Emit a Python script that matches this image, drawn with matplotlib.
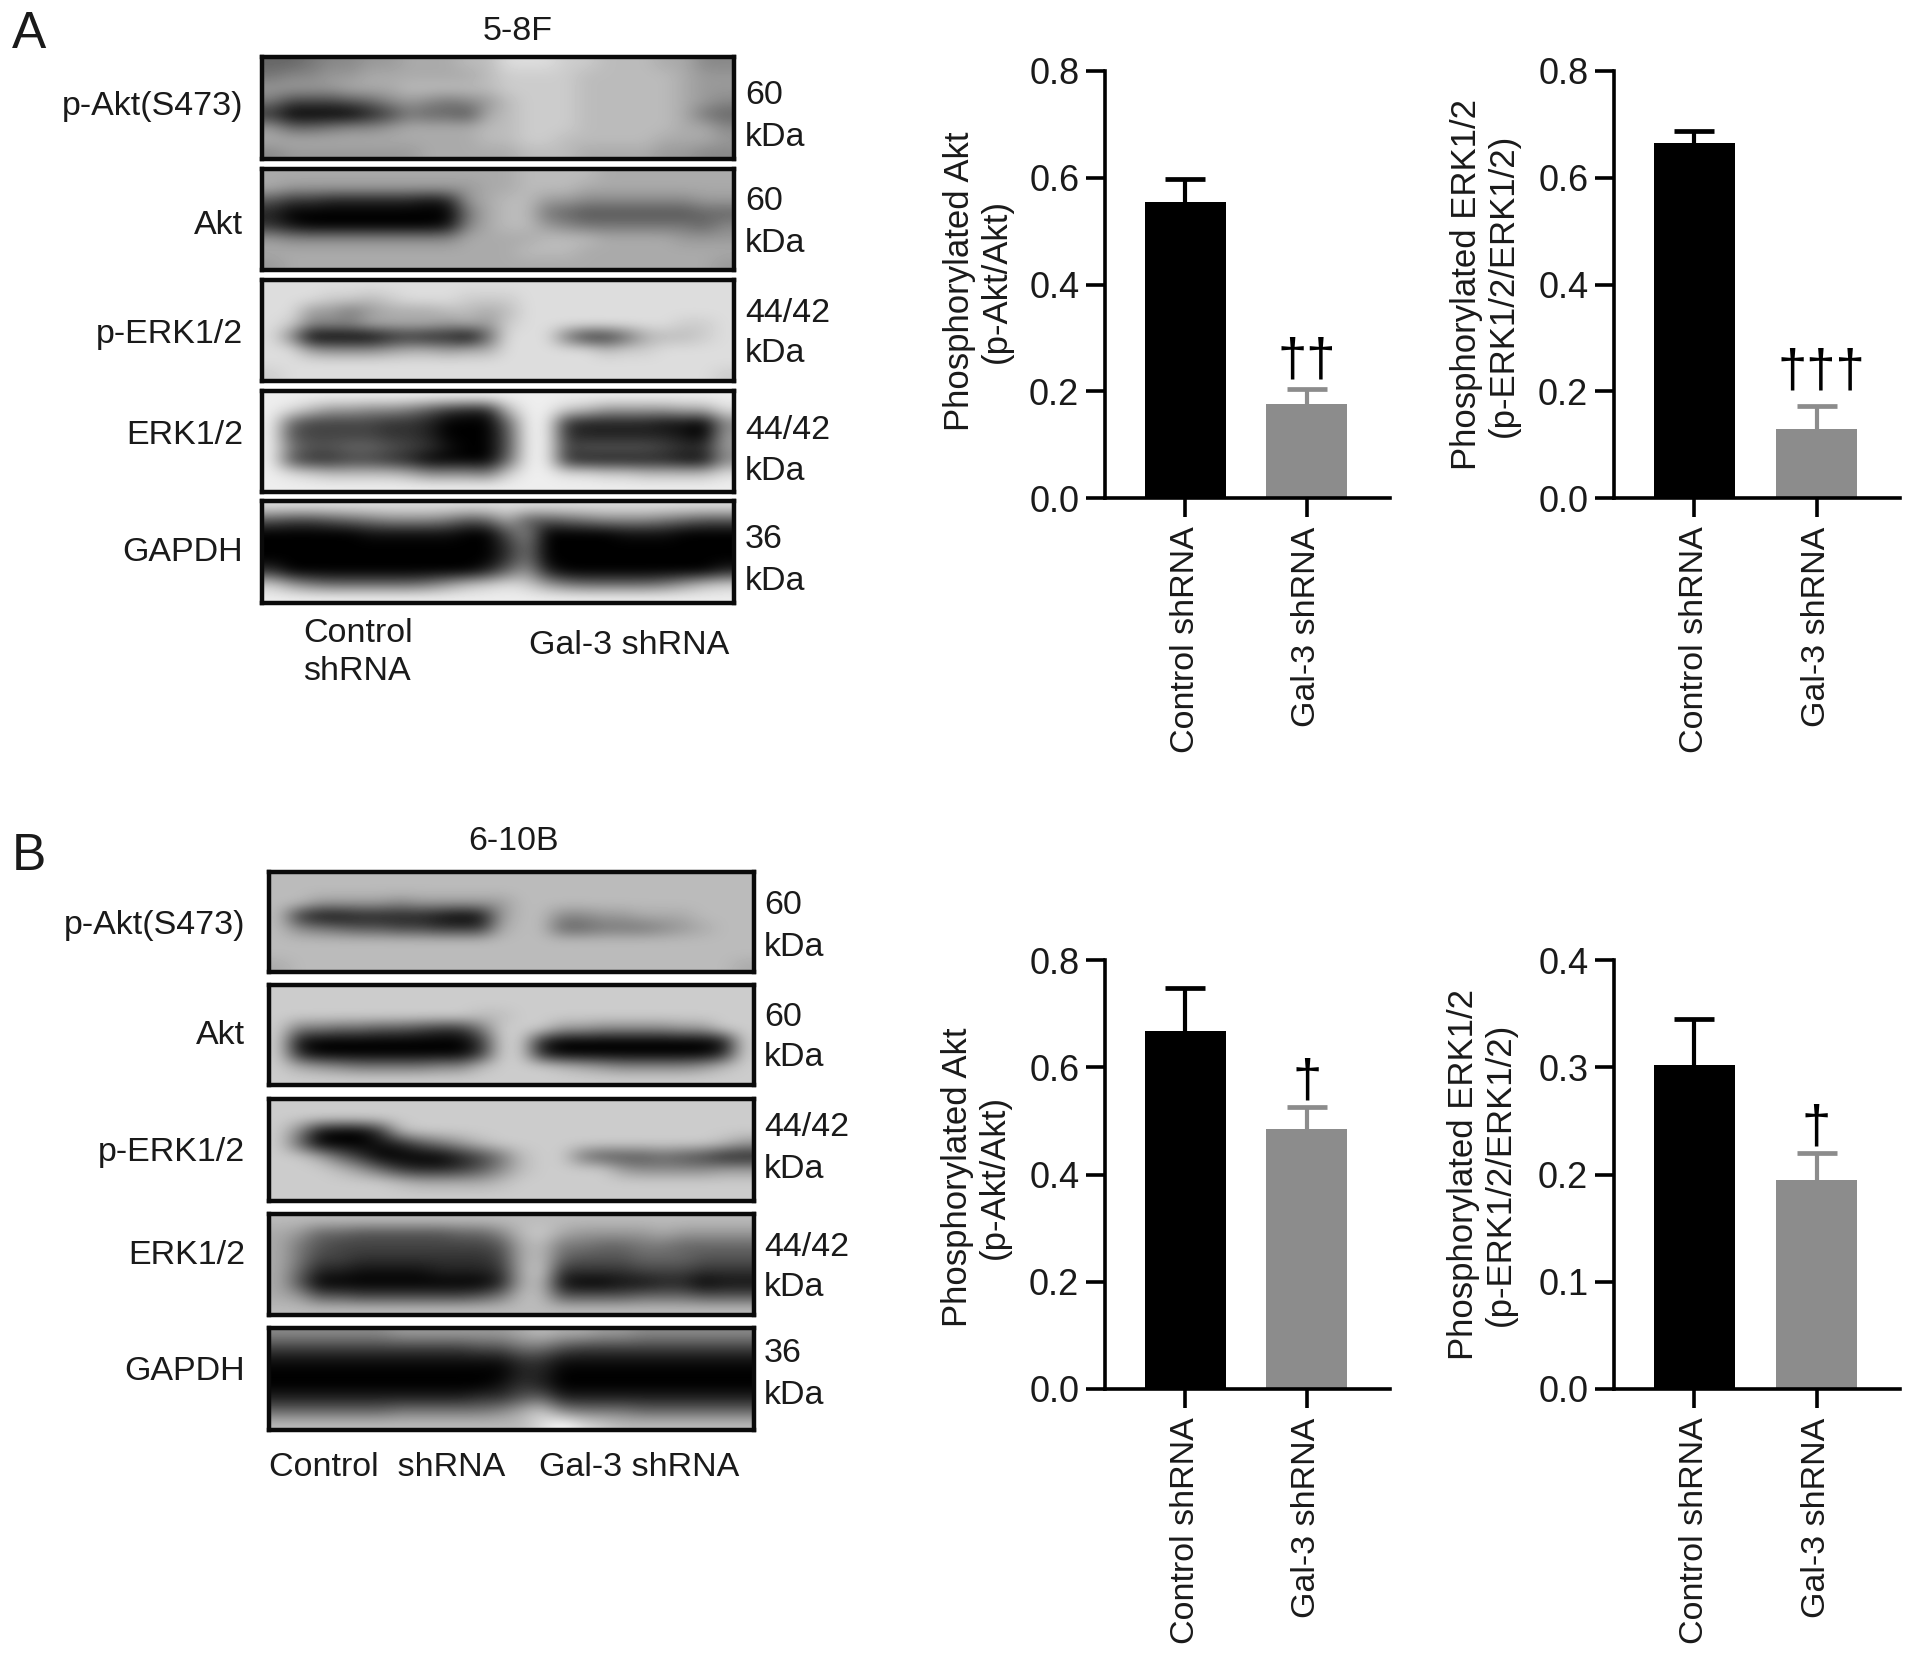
import numpy as np
import matplotlib
matplotlib.use('Agg')
import matplotlib.pyplot as plt
from matplotlib.transforms import IdentityTransform

W, H = 1913, 1657
plt.rcParams['font.family'] = ['Liberation Sans', 'DejaVu Sans']

groups = ['Control shRNA', 'Gal-3 shRNA']
bar_colors = ['#000000', '#8c8c8c']

a_akt_vals = [0.555, 0.177]
a_akt_tops = [0.597, 0.205]
a_erk_vals = [0.665, 0.130]
a_erk_tops = [0.688, 0.172]
b_akt_vals = [0.667, 0.485]
b_akt_tops = [0.748, 0.525]
b_erk_vals = [0.302, 0.195]
b_erk_tops = [0.345, 0.220]

ticks_08 = [0.0, 0.2, 0.4, 0.6, 0.8]
ticks_04 = [0.0, 0.1, 0.2, 0.3, 0.4]

akt_label = 'Phosphorylated Akt\n(p-Akt/Akt)'
erk_label = 'Phosphorylated ERK1/2\n(p-ERK1/2/ERK1/2)'

# blot images as small grey tables, one hex digit per cell (0 black, f white)
blot_a1 = ['6678899aaabbdddccbbbaa88',
           '78899aaaaaabccccbbbbba99',
           '9999aaabbbbbccccbbbbba99',
           '744456898789bcccbbbbba98',
           '30000247665abcccbbbbba76',
           '9667889aaaabbcccbbbbbaa8',
           'aaaaaaaaaaabbccbbbbbaaa9',
           '89999999aaaaabbbaaaa9988']
blot_a2 = ['aaaaaaaaaaaaabbbbaaaaaaa',
           'a9999999999aabbbaaaaaaaa',
           '53322222129abb9988888899',
           '20000000007abb7655555566',
           '31000000018abb9877777768',
           '9888888888aaaabbbaaaa999',
           'aaaaaaaaaaaaabbbaaaaaaaa',
           '9aaaaaaaaaaaaaaaaaaaaaa9']
blot_a3 = ['dddddddddddddddddddddddd',
           'dddccbcdddcccddddddddddd',
           'dd9979aaabbabddddddddddd',
           'dc888aaaa9a9cddddddddccd',
           'd80000232206ddd7336abbcd',
           'dd98889aa9aadddddbccdddd',
           'dddddddddddddddddddddddd',
           'cddddddddddddddddddddddc']
blot_a4 = ['eeeeeeeeeeeeeeeeeeeeeeee',
           'edb998875322beecb9999aad',
           'e644443320006ee322221108',
           'e544443320005ee322222109',
           'e755665431005ee455554339',
           'e533443200006ee322222118',
           'edcbbbba8887ceeddccbbbbd',
           'eeeeeeeeeeeeeeeeeeeeeeee']
blot_a5 = ['dddddddddddddddddddddddd',
           '544567888756a55678887655',
           '000001111100580000111000',
           '000000000000370000000000',
           '000000000000370000000000',
           '300000000002692000000002',
           'c976666679bcdc97666679bc',
           'eeeeeeeeeeeeeeeeeeeeeeee']
blot_b1 = ['bbbbbbbbbbbbbbbbbbbbbbbb',
           'bbbbbbbbbbbbbbbbbbbbbbbb',
           'bb9999899999bbbbbbbbbbbb',
           'b31122221019bb8899aaabbb',
           'b8765544333abb6677789abb',
           'bbbbbbbbbbbbbbbbbbbbbbbb',
           'bbbbbbbbbbbbbbbbbbbbbbbb',
           'abbbbbbbbbbbbbbbbbbbbbba']
blot_b2 = ['cccccccccccccccccccccccc',
           'cccccccccccccccccccccccc',
           'ccccccccccbbcccccccccccc',
           'c7766554337ccc99888899cc',
           'c1000000003cc2000000001c',
           'c2000000003cc2000000002c',
           'ca98777788bcccba988889bc',
           'cccccccccccccccccccccccc']
blot_b3 = ['cccccccccccccccccccccccc',
           'cccccccccccccccccccccccc',
           'c81003bccccccccccccccccc',
           'c600012579bcccccccccccb9',
           'cca630000247bcc755565422',
           'cccb96322358bcccc9888899',
           'ccccccbaaaabcccccccccccc',
           'cccccccccccccccccccccccc']
blot_b4 = ['bbbbbbbbbbbbbbbbbbbbbbbb',
           'a96655555668bca9999a9999',
           'a75444444445ab7766776666',
           'a74433333334ab6555666555',
           'a62211112223ac3333444333',
           'a50000000002ab1001122011',
           'a95544444457bb5555666555',
           'bbbbbbbbbbbbbbbbbbbbbbbb']
blot_b5 = ['888888999999abaa99888888',
           '444444444455775444444444',
           '111111111111331111111111',
           '000000000000220000000000',
           '000000000001320000000000',
           '222222222233562222222222',
           '666666777778ac8777666666',
           'bbbbbbbbbbbbbdfdcbbbbbbb']

names = ['p-Akt(S473)', 'Akt', 'p-ERK1/2', 'ERK1/2', 'GAPDH']
sizes = ['60', '60', '44/42', '44/42', '36']

fig = plt.figure(figsize=(W / 100, H / 100), dpi=100, facecolor='white')
px = IdentityTransform()


def new_axes(x0, y0, x1, y1):
    return fig.add_axes([x0 / W, 1 - y1 / H, (x1 - x0) / W, (y1 - y0) / H])


def put_text(x, y, s, size=24.5, ha='left', va='center', **kw):
    fig.text(x / W, 1 - y / H, s, fontsize=size, ha=ha, va=va, color='#1a1a1a', **kw)


def draw_blot(rows, x0, y0, x1, y1):
    ax = new_axes(x0, y0, x1, y1)
    grid = np.array([[int(c, 16) for c in r] for r in rows])
    ax.imshow(grid, cmap='gray', vmin=0, vmax=15, aspect='auto', interpolation='bicubic')
    ax.set_xticks([])
    ax.set_yticks([])
    for s in ax.spines.values():
        s.set_linewidth(3.2)
        s.set_color('#0a0a0a')


def draw_bars(box, vals, tops, ticks, ylabel, label_x, label_y, mark, mark_y):
    x0, y0, x1, y1 = box
    ax = new_axes(x0, y0, x1, y1)
    ax.patch.set_alpha(0)
    for i in range(2):
        ax.bar(i, vals[i], width=0.667, color=bar_colors[i])
        # upper whisker only, no cap on the bar top
        ax.vlines(i, vals[i], tops[i], color=bar_colors[i], linewidth=3)
        ax.plot([i], [tops[i]], marker='_', markersize=29, markeredgewidth=3.4, color=bar_colors[i])
    ax.set_xlim(-0.658, 1.683)
    ax.set_ylim(0, ticks[-1])
    ax.set_yticks(ticks)
    ax.set_yticklabels(['%.1f' % t for t in ticks], fontsize=26, color='#1a1a1a')
    ax.set_xticks([0, 1])
    ax.set_xticklabels(groups, rotation=90, fontsize=24.5, color='#1a1a1a')
    ax.tick_params(axis='y', length=13.5, width=2.6, pad=5)
    ax.tick_params(axis='x', length=13.5, width=2.6, pad=7)
    ax.spines['top'].set_visible(False)
    ax.spines['right'].set_visible(False)
    ax.spines['left'].set_linewidth(2.6)
    ax.spines['bottom'].set_linewidth(2.6)
    ax.set_ylabel(ylabel, fontsize=25, color='#1a1a1a', linespacing=1.18, va='center', ha='center')
    ax.yaxis.set_label_coords(label_x, H - label_y, transform=px)
    ax.text(1.04 if len(mark) == 3 else 1, mark_y, mark, fontsize=38, ha='center', va='center', color='black')


# panel A blots
put_text(12, 35, 'A', size=37)
put_text(518, 31, '5-8F', ha='center')
a_blots = [blot_a1, blot_a2, blot_a3, blot_a4, blot_a5]
a_boxes = [(57, 159), (169, 270), (280, 381), (391, 492), (501, 603)]
a_name_y = [107, 226, 334, 436, 552]
a_top_y = [96, 202, 313, 431, 540]
a_bot_y = [137, 243, 354, 472, 581]
for i in range(5):
    draw_blot(a_blots[i], 262, a_boxes[i][0], 734, a_boxes[i][1])
    put_text(243, a_name_y[i], names[i], ha='right')
    put_text(745, a_top_y[i], sizes[i])
    put_text(745, a_bot_y[i], 'kDa')
put_text(303, 633, 'Control')
put_text(303, 672, 'shRNA')
put_text(529, 646, 'Gal-3 shRNA')

# panel B blots
put_text(12, 856, 'B', size=37)
put_text(513, 842, '6-10B', ha='center')
b_blots = [blot_b1, blot_b2, blot_b3, blot_b4, blot_b5]
b_boxes = [(872, 972), (985, 1085), (1099, 1201), (1214, 1315), (1328, 1430)]
b_name_y = [925, 1036, 1152, 1256, 1371]
b_top_y = [906, 1017, 1127, 1247, 1354]
b_bot_y = [947, 1057, 1169, 1287, 1395]
for i in range(5):
    draw_blot(b_blots[i], 269, b_boxes[i][0], 754, b_boxes[i][1])
    put_text(245, b_name_y[i], names[i], ha='right')
    put_text(764, b_top_y[i], sizes[i])
    put_text(764, b_bot_y[i], 'kDa')
put_text(269, 1467, 'Control  shRNA')
put_text(539, 1467, 'Gal-3 shRNA')

# bar panels
draw_bars((1105, 71, 1390, 498), a_akt_vals, a_akt_tops, ticks_08, akt_label, 978, 281, '††', 0.255)
draw_bars((1614, 71, 1900, 498), a_erk_vals, a_erk_tops, ticks_08, erk_label, 1485, 285, '†††', 0.235)
draw_bars((1105, 960, 1390, 1389), b_akt_vals, b_akt_tops, ticks_08, akt_label, 976, 1177, '†', 0.571)
draw_bars((1614, 960, 1900, 1389), b_erk_vals, b_erk_tops, ticks_04, erk_label, 1482, 1174, '†', 0.243)

fig.savefig('out.png', dpi=100)
